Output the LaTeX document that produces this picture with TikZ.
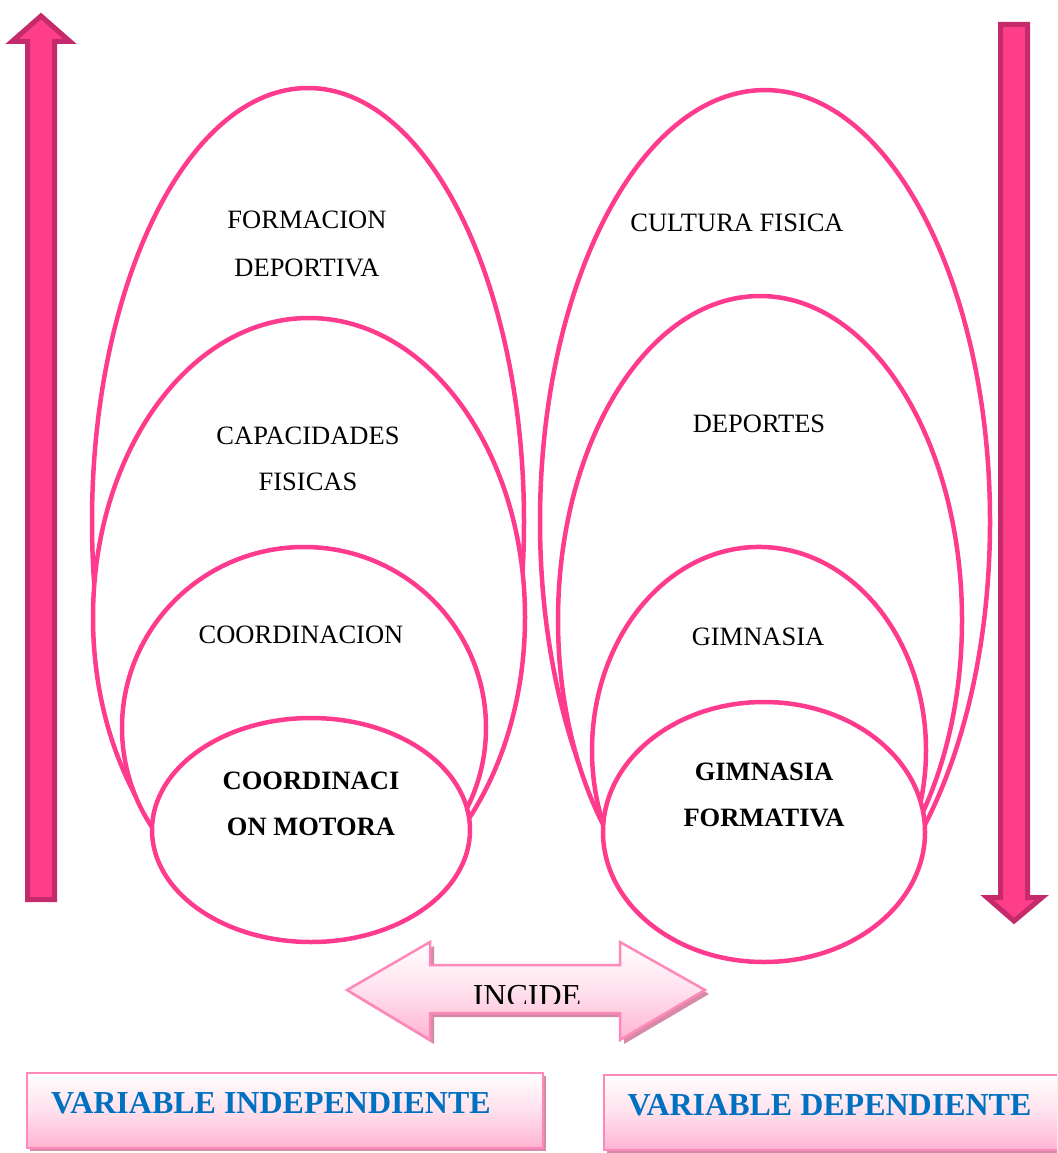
\documentclass[tikz,border=0pt]{standalone}
\usepackage{fontspec}
\setmainfont{Liberation Serif}
\usetikzlibrary{shapes.geometric}
\definecolor{ellc}{HTML}{FF3B8D}
\definecolor{arrfill}{HTML}{FF3E8A}
\definecolor{arrline}{HTML}{C42A6C}
\definecolor{pinkline}{HTML}{FF88BB}
\definecolor{pinkb}{HTML}{FFB3D1}
\definecolor{shadowc}{HTML}{D58AA8}
\definecolor{bluetxt}{HTML}{0070C0}
\tikzset{
  ell/.style={ellipse, draw=ellc, line width=4.5pt, fill=white, inner sep=0pt},
  lbl/.style={anchor=base, inner sep=0pt, font=\fontsize{26.5}{30}\selectfont},
  blbl/.style={anchor=base, inner sep=0pt, font=\fontsize{26.5}{30}\selectfont\bfseries},
  varlbl/.style={anchor=base, inner sep=0pt, text=bluetxt, font=\fontsize{32}{36}\selectfont\bfseries},
  bigarrow/.style={fill=arrfill, draw=arrline, line width=5pt, line join=miter},
  pinkbox/.style={draw=pinkline, line width=2pt, top color=white, bottom color=pinkb, middle color=white!60!pinkb},
}
\begin{document}
\begin{tikzpicture}[x=1pt,y=-1pt]
\useasboundingbox (0,0) rectangle (1057,1153);
\clip (0,0) rectangle (1057,1153);

% ---- left group of ellipses
\begin{scope}
\clip (0,0) rectangle (545,830);
\node[ell, minimum width=432pt, minimum height=867.6pt] (fd) at (308,521.8) {};
\node[ell, minimum width=432pt, minimum height=598.6pt] (cf) at (309,617.3) {};
\node[ell, minimum width=364pt, minimum height=361.4pt] (co) at (304,727.7) {};
\end{scope}
\node[ell, minimum width=318pt, minimum height=224pt] (cm) at (311,830) {};

% ---- right group of ellipses
\begin{scope}
\clip (530,0) rectangle (996,832);
\node[ell, minimum width=450pt, minimum height=862.5pt] (cu) at (765,521.3) {};
\node[ell, minimum width=404pt, minimum height=648.6pt] (de) at (760,620.3) {};
\node[ell, minimum width=334pt, minimum height=406.9pt] (gi) at (759,750.4) {};
\end{scope}
\node[ell, minimum width=322pt, minimum height=260pt] (gf) at (764,832) {};

% ---- ellipse texts
\node[lbl] (t1) at (307,228) {FORMACION};
\node[lbl] (t2) at (307,276) {DEPORTIVA};
\node[lbl] (t3) at (308,444) {CAPACIDADES};
\node[lbl] (t4) at (308,490) {FISICAS};
\node[lbl] (t5) at (301,643) {COORDINACION};
\node[blbl] (t6) at (311,789) {COORDINACI};
\node[blbl] (t7) at (311,835) {ON MOTORA};
\node[lbl] (t8) at (737,231) {CULTURA FISICA};
\node[lbl] (t9) at (759,432) {DEPORTES};
\node[lbl] (t10) at (758,645) {GIMNASIA};
\node[blbl] (t11) at (764,780) {GIMNASIA};
\node[blbl] (t12) at (764,826) {FORMATIVA};

% ---- vertical arrows
\path[bigarrow] (41,16) -- (70,41.5) -- (54.5,41.5) -- (54.5,899.5)
  -- (27.5,899.5) -- (27.5,41.5) -- (12,41.5) -- cycle;
\path[bigarrow] (1014,921) -- (1042,897.5) -- (1027.5,897.5) -- (1027.5,24.5)
  -- (1000.5,24.5) -- (1000.5,897.5) -- (987,897.5) -- cycle;

% ---- INCIDE double arrow
\fill[shadowc, shift={(4,4)}] (347,990) -- (430,942) -- (430,965) -- (620,965)
  -- (620,942) -- (705,990) -- (620,1040) -- (620,1013) -- (430,1013)
  -- (430,1040) -- cycle;
\path[pinkbox, line width=2.5pt] (347,990) -- (430,942) -- (430,965) -- (620,965)
  -- (620,942) -- (705,990) -- (620,1040) -- (620,1013) -- (430,1013)
  -- (430,1040) -- cycle;
\begin{scope}
\clip (0,0) rectangle (1057,1003);
\node[anchor=base, inner sep=0pt, font=\fontsize{32}{36}\selectfont] (inc) at (527,1006) {INCIDE};
\end{scope}

% ---- variable boxes
\fill[shadowc] (30,1076) rectangle (546,1151);
\node[pinkbox, rectangle, minimum width=516pt, minimum height=75pt, inner sep=0pt] (vi) at (285,1110.5) {};
\node[varlbl] (vit) at (271,1113) {VARIABLE INDEPENDIENTE};

\fill[shadowc] (607,1078) rectangle (1066,1153);
\node[pinkbox, rectangle, minimum width=460pt, minimum height=75pt, inner sep=0pt] (vd) at (834,1112.5) {};
\node[varlbl] (vdt) at (829.5,1115) {VARIABLE DEPENDIENTE};
\end{tikzpicture}
\end{document}
